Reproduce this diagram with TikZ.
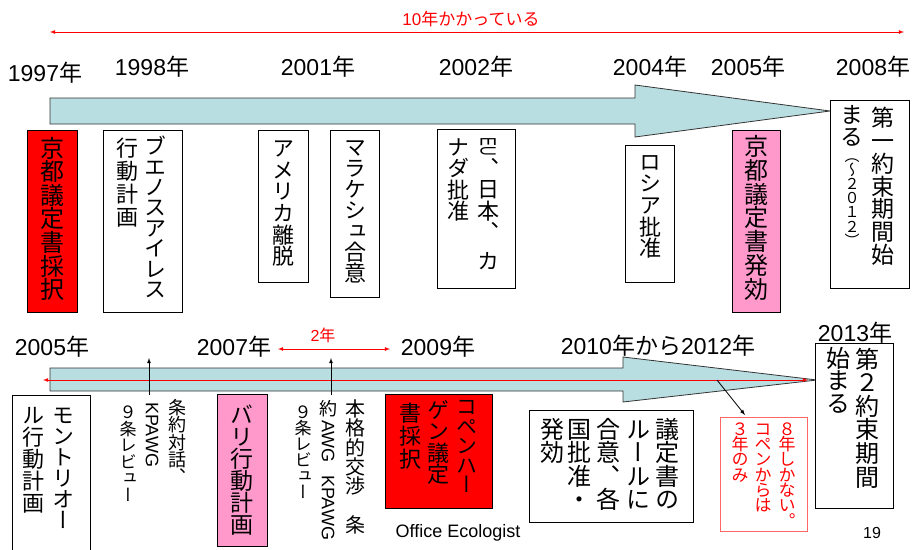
\documentclass[tikz,border=0pt]{standalone}
\usepackage{fontspec}
\usepackage{graphicx}
\setmainfont{Liberation Sans}
\newfontfamily\jp{Noto Sans CJK JP}
\newfontfamily\jpv{Noto Sans CJK JP}[RawFeature=+vert]

\definecolor{flow}{RGB}{185,222,226}
\definecolor{kpink}{RGB}{255,153,204}
\definecolor{kred}{RGB}{255,0,0}

% one column of vertical text, one slot of \baselineskip per character
\newdimen\colpitch
\makeatletter
\def\tate@end{\tate@end}
\newcommand\tate[1]{\colpitch=\baselineskip\vbox{\offinterlineskip\tate@#1\tate@end}}
\def\tate@#1{\ifx\tate@end#1\else
  \vbox to\colpitch{\vss\hbox to 0pt{\hss\vrule height .88em depth .12em width 0pt\relax#1\hss}\vss}%
  \expandafter\tate@\fi}
\newcommand\tatex[1]{\expandafter\tate\expandafter{#1}}
\makeatother

\tikzset{
  box/.style={draw, line width=0.8pt, inner sep=0pt, anchor=north west},
  col/.style 2 args={anchor=north, inner sep=0pt, font=\jpv\fontsize{#1}{#2}\selectfont},
  year/.style={inner sep=0pt, font=\fontsize{23}{23}\selectfont},
  lat/.style={rotate=-90, anchor=west, inner sep=0pt, font=\fontsize{#1}{#1}\selectfont},
  flowarrow/.style={fill=flow, draw=black!80, line width=0.8pt},
}

\begin{document}
\begin{tikzpicture}[x=1pt,y=-1pt]
  \useasboundingbox (0,0) rectangle (913,549);

  % ---- 1997 - 2008 ----

  % 10 years
  \coordinate (span0) at (50,32);
  \coordinate (span1) at (904,32);
  \draw[red, line width=0.8pt, latex-latex] (span0) -- (span1);
  \node[red, inner sep=0pt, font=\fontsize{17}{17}\selectfont] (span) at (471,19) {10{\jp 年かかっている}};

  % years
  \node[year] (t1997) at (45,73) {1997{\jp 年}};
  \foreach \x/\yr in {152/1998, 318/2001, 476/2002, 650/2004, 748/2005, 873/2008}{
    \node[year] (t\yr) at (\x,67) {\yr{\jp 年}};
  }

  % big arrow
  \draw[flowarrow] (50,98) -- (635,98) -- (635,85) -- (830,111) -- (635,137)
    -- (635,124) -- (50,124) -- cycle;

  % events
  \node[box, fill=kred, minimum width=50pt, minimum height=182pt] (kyoto) at (27,130) {};
  \node[col={24}{23.6}] (kyotoT) at (52,136) {\tate{京都議定書採択}};

  \node[box, minimum width=79pt, minimum height=182pt] (buenos) at (103,130) {};
  \node[col={22}{20.4}] (buenosR) at (155,136) {\tate{ブエノスアイレス}};
  \node[col={22}{23}] (buenosL) at (127,136) {\tate{行動計画}};

  \node[box, minimum width=50pt, minimum height=152pt] (usa) at (258,130) {};
  \node[col={22}{21.7}] (usaT) at (283,137) {\tate{アメリカ離脱}};

  \node[box, minimum width=49pt, minimum height=167pt] (marrakesh) at (330,130) {};
  \node[col={22}{21}] (marrakeshT) at (355,136) {\tate{マラケシュ合意}};

  \node[box, minimum width=78pt, minimum height=159pt] (ratify) at (437,129) {};
  \node[lat=22] (ratifyEU) at (488,137) {\scalebox{0.6}[1]{EU}};
  \node[col={22}{21.5}] (ratifyR) at (488,157) {\tate{、日本、}};
  \node[col={22}{21.5}] (ratifyK) at (488,250) {\tate{カ}};
  \node[col={22}{21.5}] (ratifyL) at (458,136) {\tate{ナダ批准}};

  \node[box, minimum width=49pt, minimum height=137pt] (russia) at (625,145) {};
  \node[col={22}{21.6}] (russiaT) at (650,151) {\tate{ロシア批准}};

  \node[box, fill=kpink, minimum width=48pt, minimum height=182pt] (effect) at (732,130) {};
  \node[col={24}{23.9}] (effectT) at (756,134) {\tate{京都議定書発効}};

  \node[box, fill=white, minimum width=79pt, minimum height=188pt] (first) at (830,100) {};
  \node[col={23}{22.9}] (firstR) at (883,106) {\tate{第一約束期間始}};
  \node[col={23}{22}] (firstL) at (852,104) {\tate{まる}};
  \node[col={15}{14.2}] (firstP) at (852,148) {\tate{（～２０１２）}};

  % ---- 2005 - 2013 ----

  % years
  \foreach \x/\yr in {52/2005, 234/2007, 438/2009}{
    \node[year] (b\yr) at (\x,347) {\yr{\jp 年}};
  }
  \node[year] (b2010) at (658,346) {2010{\jp 年から}2012{\jp 年}};
  \node[year] (b2013) at (855,333) {2013{\jp 年}};

  % 2 years
  \coordinate (two0) at (278,349);
  \coordinate (two1) at (390,349);
  \draw[red, line width=0.8pt, latex-latex] (two0) -- (two1);
  \node[red, inner sep=0pt, font=\fontsize{16}{16}\selectfont] (two) at (323,335) {2{\jp 年}};

  % big arrow
  \draw[flowarrow] (50,368) -- (623,368) -- (623,357) -- (817,380) -- (623,402)
    -- (623,391) -- (50,391) -- cycle;
  \coordinate (run0) at (43,380);
  \coordinate (run1) at (808,380);
  \draw[red, line width=0.8pt, latex-latex] (run0) -- (run1);

  % review arrows
  \coordinate (rev1a) at (149,395);
  \coordinate (rev1b) at (149,358);
  \coordinate (rev2a) at (331,395);
  \coordinate (rev2b) at (331,358);
  \draw[line width=0.8pt, -latex] (rev1a) -- (rev1b);
  \draw[line width=0.8pt, -latex] (rev2a) -- (rev2b);

  % events
  \node[box, minimum width=78pt, minimum height=165pt] (montreal) at (12,395) {};
  \node[col={22}{21}] (montrealR) at (63,404) {\tate{モントリオー}};
  \node[col={22}{22}] (montrealL) at (33,404) {\tate{ル行動計画}};

  \node[col={18}{17.3}] (talkR) at (177,399) {\tate{条約対話、}};
  \node[lat=18] (talkM) at (152,402) {KPAWG};
  \node[col={17}{16.5}] (talkL) at (128,404) {\tate{９条レビュー}};

  \node[box, fill=kpink, minimum width=50pt, minimum height=152pt] (bali) at (217,394) {};
  \node[col={23}{22}] (baliT) at (242,404) {\tate{バリ行動計画}};

  \node[col={20}{19.3}] (talksR) at (355,399) {\tate{本格的交渉~条}};
  \node[col={18}{18}] (talksM) at (328,399) {\tate{約}};
  \node[lat=18] (talksAWG) at (328,420) {AWG};
  \node[lat=18] (talksKP) at (328,475) {KPAWG};
  \node[col={17}{16}] (talksL) at (303,404) {\tate{９条レビュー}};

  \node[box, fill=kred, minimum width=107pt, minimum height=114pt] (copen) at (385,394) {};
  \node[col={21}{19.5}] (copenR) at (467,397) {\tate{コペンハー}};
  \node[col={22}{21.5}] (copenM) at (438,399) {\tate{ゲン議定}};
  \node[col={22}{23}] (copenL) at (410,401) {\tate{書採択}};

  \node[box, minimum width=164pt, minimum height=112pt] (rules) at (529,410) {};
  \foreach \x/\txt [count=\i] in {667/議定書の, 638/ルールに, 608/合意、各, 579/国批准・, 552/発効}{
    \node[col={24}{23.5}] (rules\i) at (\x,417) {\tatex{\txt}};
  }

  \coordinate (left0) at (717,380);
  \coordinate (left1) at (745,415);
  \draw[line width=0.8pt, -latex] (left0) -- (left1);
  \node[box, draw=red!60, minimum width=87pt, minimum height=114pt] (note) at (720,417) {};
  \foreach \x/\txt [count=\i] in {787/８年しかない。, 763/コペンからは, 740/３年のみ}{
    \node[col={17}{15.3}, red] (note\i) at (\x,421) {\tatex{\txt}};
  }

  \node[box, fill=white, minimum width=78pt, minimum height=165pt] (second) at (815,343) {};
  \node[col={24}{23.6}] (secondR) at (867,347) {\tate{第２約束期間}};
  \node[col={24}{22.3}] (secondL) at (838,347) {\tate{始まる}};

  % footer
  \node[inner sep=0pt, font=\fontsize{18}{18}\selectfont] (footer) at (458,533) {Office Ecologist};
  \node[inner sep=0pt, font=\fontsize{16}{16}\selectfont] (page) at (872,533) {19};

\end{tikzpicture}
\end{document}
